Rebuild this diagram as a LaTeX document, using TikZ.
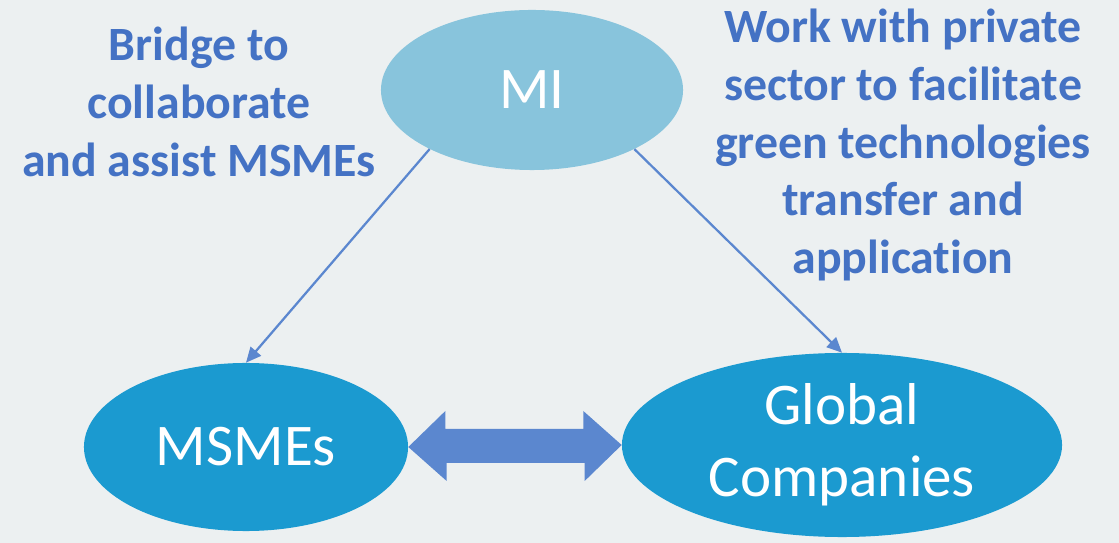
\documentclass[tikz,border=0pt]{standalone}
\usepackage{fontspec}
\setmainfont{Carlito}[Ligatures=NoCommon]
\usetikzlibrary{shapes.geometric,arrows.meta}
\definecolor{bggrey}{RGB}{236,240,241}
\definecolor{milight}{RGB}{136,196,220}
\definecolor{partblue}{RGB}{27,154,208}
\definecolor{linkblue}{RGB}{91,135,207}
\definecolor{textblue}{RGB}{68,114,196}
\begin{document}
\begin{tikzpicture}[
    x=0.025cm, y=-0.025cm,
    party/.style={ellipse, fill=partblue, text=white, inner sep=0pt, align=center,
        font=\fontsize{42}{51}\selectfont},
    note/.style={text=textblue, align=center, inner sep=0pt,
        font=\bfseries\fontsize{34}{41}\selectfont},
    >={Triangle[length=0.38cm, width=0.34cm]}
]
% Hintergrund
\fill[bggrey] (0,0) rectangle (1119,543);

% Elemente
\node[party, fill=milight, minimum width=7.55cm, minimum height=4cm] at (532,90) (mi) {MI};
\node[party, minimum width=8.1cm, minimum height=4.2cm] at (246,447) (msmes) {MSMEs};
\node[party, minimum width=11cm, minimum height=4.6cm] at (842,445) (global) {Global\\Companies};

% Beschriftungen
\node[note] at (199,102) (bridge) {Bridge to\\collaborate\\and assist MSMEs};
\node[note] at (903,145) (work) {Work with private\\sector to facilitate\\green technologies\\transfer and\\application};

% Verbindungspfeile
\draw[->, linkblue, line width=1.6pt] (mi.210) -- (msmes.north);
\draw[->, linkblue, line width=1.6pt] (mi.-30) -- (global.north);

% Doppelpfeil
\fill[linkblue] (msmes.east) -- ++(37,-36) -- ++(0,18) -- ++(138,0) -- ++(0,-18)
    -- (global.west) -- ++(-37,36) -- ++(0,-18) -- ++(-138,0) -- ++(0,18) -- cycle;
\end{tikzpicture}
\end{document}
